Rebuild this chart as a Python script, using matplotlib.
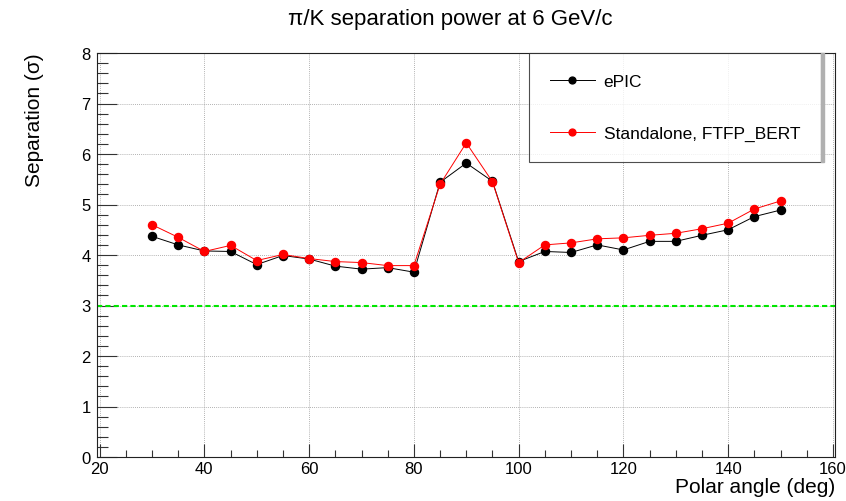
import matplotlib
matplotlib.use('Agg')
import matplotlib.pyplot as plt
from matplotlib.ticker import MultipleLocator
from matplotlib.patches import Rectangle

plt.rcParams['font.family'] = ['Liberation Sans', 'DejaVu Sans']

# Polar angle points (deg)
angles = [30, 35, 40, 45, 50, 55, 60, 65, 70, 75, 80, 85, 90, 95,
          100, 105, 110, 115, 120, 125, 130, 135, 140, 145, 150]

# Separation power in sigma
epic = [4.37, 4.20, 4.08, 4.07, 3.81, 3.99, 3.92, 3.78, 3.72, 3.75, 3.66,
        5.44, 5.82, 5.46, 3.87, 4.07, 4.05, 4.20, 4.10, 4.27, 4.27, 4.39,
        4.50, 4.76, 4.89]
standalone = [4.60, 4.35, 4.07, 4.19, 3.89, 4.01, 3.93, 3.87, 3.85, 3.79, 3.79,
              5.40, 6.22, 5.45, 3.85, 4.20, 4.24, 4.32, 4.34, 4.39, 4.43, 4.52,
              4.63, 4.91, 5.07]

series_labels = ['ePIC', 'Standalone, FTFP_BERT']
threshold = 3

W, H = 846, 502
fig = plt.figure(figsize=(W / 100, H / 100), dpi=100)
ax = fig.add_axes([97 / W, 1 - 458 / H, (835 - 97) / W, (458 - 54) / H])

# 3 sigma reference line
ax.axhline(threshold, color='#00e600', lw=1.5, dashes=(2.5, 1.5), zorder=2)

ax.plot(angles, epic, color='black', lw=0.7, marker='o', ms=5.8,
        label=series_labels[0], zorder=3)
ax.plot(angles, standalone, color='red', lw=0.7, marker='o', ms=5.8,
        label=series_labels[1], zorder=4)

ax.set_xlim(19.5, 160.4)
ax.set_ylim(0, 8)

ax.xaxis.set_major_locator(MultipleLocator(20))
ax.xaxis.set_minor_locator(MultipleLocator(5))
ax.yaxis.set_major_locator(MultipleLocator(1))
ax.yaxis.set_minor_locator(MultipleLocator(0.2))

ax.tick_params(axis='both', which='both', direction='in', colors='#333333',
               labelcolor='black', labelsize=12, width=0.8)
ax.tick_params(axis='x', which='major', length=9.4, pad=3)
ax.tick_params(axis='x', which='minor', length=5)
ax.tick_params(axis='y', which='major', length=14.5, pad=4.5)
ax.tick_params(axis='y', which='minor', length=8)

ax.grid(True, which='major', color='#999999', lw=0.6, linestyle=(0, (1, 1.5)))
ax.set_axisbelow(True)
for sp in ax.spines.values():
    sp.set_linewidth(0.8)
    sp.set_color('#222222')

fig.text(450 / W, 1 - 20 / H, 'π/K separation power at 6 GeV/c',
         ha='center', va='center', fontsize=16)
fig.text(835 / W, 1 - 488 / H, 'Polar angle (deg)', ha='right',
         va='center', fontsize=15)
fig.text(35 / W, 1 - 53 / H, 'Separation (σ)', ha='center', va='top',
         rotation=90, fontsize=15)

leg = ax.legend(loc='upper left',
                bbox_to_anchor=(529 / W, 1 - 161 / H, (821 - 529) / W, (161 - 54) / H),
                bbox_transform=fig.transFigure, mode='expand', borderaxespad=0,
                fontsize=12.5, frameon=True, fancybox=False, borderpad=1.2,
                labelspacing=2.1, handlelength=2.6, handletextpad=0.5,
                markerscale=0.85)
leg.get_frame().set_edgecolor('#222222')
leg.get_frame().set_linewidth(0.8)
leg.set_zorder(10)

# gray shadow on the right of the legend box
fig.canvas.draw()
bb = leg.get_window_extent()
fig.patches.append(Rectangle((bb.x1 / W, bb.y0 / H), 2.5 / W, bb.height / H,
                             transform=fig.transFigure, color='#b0b0b0', zorder=9))

fig.savefig('out.png', dpi=100)
